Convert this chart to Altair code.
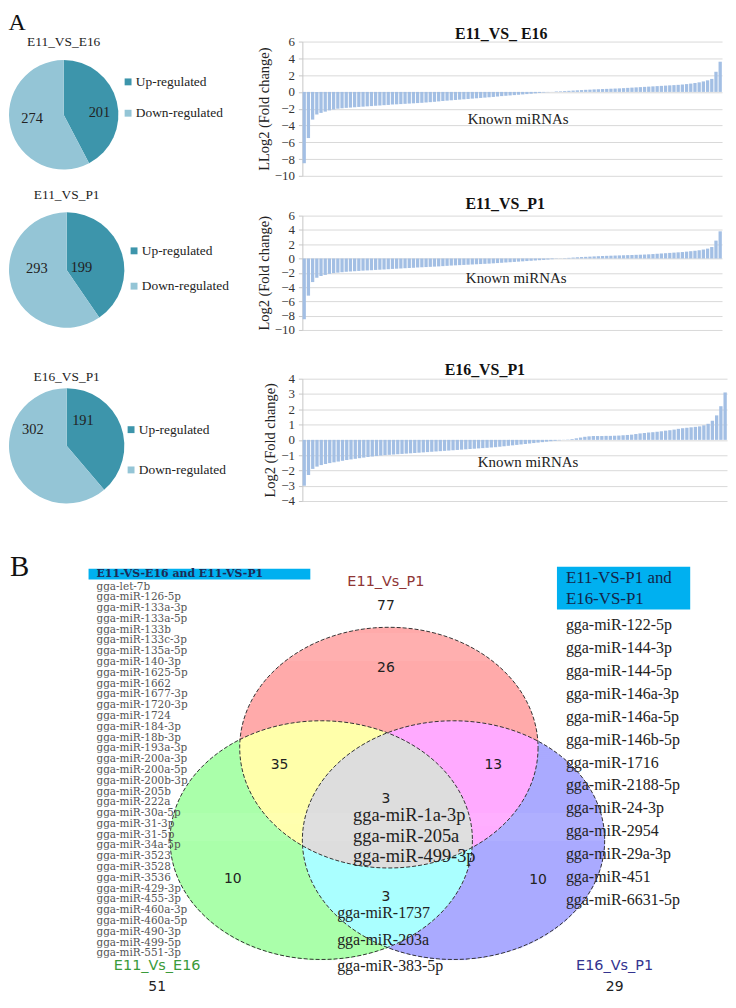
import math
import numpy as np
import pandas as pd
import altair as alt

# ------------------------------------------------------------------
# Panel A data
# ------------------------------------------------------------------
pie_titles = ["E11_VS_E16", "E11_VS_P1", "E16_VS_P1"]
categories = ["Up-regulated", "Down-regulated"]
up_counts = [201, 199, 191]
down_counts = [274, 293, 302]

bar_titles = ["E11_VS_ E16", "E11_VS_P1", "E16_VS_P1"]
bar_ytitles = ["LLog2 (Fold change)", "Log2 (Fold change)", "Log2 (Fold change)"]
known_label = ["Known miRNAs", "Known miRNAs", "Known  miRNAs"]
ticks_wide = [-10, -8, -6, -4, -2, 0, 2, 4, 6]
ticks_narrow = [-4, -3, -2, -1, 0, 1, 2, 3, 4]

# sorted log2 fold changes (one value per ~5 miRNAs)
fc_e11_e16 = [
    -8.5, -5.5, -3.3, -2.7, -2.5, -2.35, -2.2, -2.1, -2.0, -1.95,
    -1.9, -1.87, -1.83, -1.79, -1.76, -1.72, -1.69, -1.65, -1.62, -1.58,
    -1.55, -1.5, -1.48, -1.45, -1.42, -1.39, -1.36, -1.33, -1.3, -1.26,
    -1.22, -1.18, -1.13, -1.08, -1.04, -1.0, -0.96, -0.92, -0.88, -0.84,
    -0.8, -0.76, -0.72, -0.68, -0.64, -0.6, -0.55, -0.5, -0.46, -0.42,
    -0.38, -0.34, -0.3, -0.26, -0.22, -0.17, -0.12, -0.07, -0.03, 0.01,
    0.04, 0.07, 0.1, 0.13, 0.16, 0.19, 0.22, 0.25, 0.27, 0.3,
    0.32, 0.34, 0.36, 0.38, 0.4, 0.42, 0.45, 0.48, 0.51, 0.54,
    0.57, 0.6, 0.63, 0.66, 0.69, 0.72, 0.75, 0.78, 0.81, 0.84,
    0.88, 0.93, 0.99, 1.06, 1.14, 1.25, 1.38, 1.55, 2.4, 3.6,
]
fc_e11_p1 = [
    -8.5, -5.2, -3.3, -2.7, -2.45, -2.3, -2.15, -2.05, -1.98, -1.92,
    -1.86, -1.82, -1.78, -1.74, -1.7, -1.67, -1.64, -1.6, -1.57, -1.54,
    -1.5, -1.46, -1.43, -1.4, -1.36, -1.33, -1.3, -1.26, -1.23, -1.2,
    -1.17, -1.14, -1.11, -1.07, -1.03, -0.99, -0.96, -0.93, -0.9, -0.87,
    -0.84, -0.81, -0.78, -0.75, -0.72, -0.68, -0.64, -0.6, -0.56, -0.52,
    -0.48, -0.44, -0.4, -0.36, -0.32, -0.28, -0.24, -0.2, -0.15, -0.1,
    -0.05, 0.02, 0.05, 0.09, 0.13, 0.17, 0.2, 0.23, 0.26, 0.29,
    0.32, 0.35, 0.37, 0.39, 0.41, 0.43, 0.45, 0.47, 0.49, 0.51,
    0.53, 0.55, 0.58, 0.62, 0.66, 0.7, 0.74, 0.78, 0.82, 0.86,
    0.9, 0.96, 1.02, 1.08, 1.15, 1.25, 1.38, 1.6, 2.5, 3.8,
]
fc_e16_p1 = [
    -3.0, -2.3, -1.9, -1.75, -1.65, -1.58, -1.52, -1.47, -1.42, -1.37,
    -1.32, -1.28, -1.24, -1.2, -1.16, -1.12, -1.09, -1.06, -1.03, -1.0,
    -0.98, -0.96, -0.94, -0.92, -0.9, -0.88, -0.86, -0.84, -0.82, -0.8,
    -0.78, -0.76, -0.74, -0.72, -0.7, -0.68, -0.66, -0.64, -0.62, -0.6,
    -0.58, -0.56, -0.54, -0.52, -0.5, -0.48, -0.45, -0.42, -0.39, -0.36,
    -0.33, -0.3, -0.27, -0.24, -0.21, -0.18, -0.15, -0.12, -0.09, -0.06,
    -0.03, -0.01, 0.02, 0.05, 0.1, 0.15, 0.2, 0.23, 0.25, 0.25,
    0.25, 0.26, 0.26, 0.27, 0.28, 0.3, 0.32, 0.34, 0.38, 0.42,
    0.45, 0.48, 0.5, 0.53, 0.56, 0.6, 0.63, 0.67, 0.72, 0.76,
    0.79, 0.82, 0.85, 0.88, 0.95, 1.05, 1.25, 1.6, 2.2, 3.1,
]

# ------------------------------------------------------------------
# Panel B data
# ------------------------------------------------------------------
set_labels = ["E11_Vs_P1", "E11_Vs_E16", "E16_Vs_P1"]
set_totals = [77, 51, 29]
region_counts = [26, 35, 13, 3, 3, 10, 10]
box_left_title = "E11-VS-E16 and E11-VS-P1"
box_right_title = ["E11-VS-P1 and", "E16-VS-P1"]
genes_e11e16_e11p1 = [
    "gga-let-7b", "gga-miR-126-5p", "gga-miR-133a-3p", "gga-miR-133a-5p", "gga-miR-133b",
    "gga-miR-133c-3p", "gga-miR-135a-5p", "gga-miR-140-3p", "gga-miR-1625-5p", "gga-miR-1662",
    "gga-miR-1677-3p", "gga-miR-1720-3p", "gga-miR-1724", "gga-miR-184-3p", "gga-miR-18b-3p",
    "gga-miR-193a-3p", "gga-miR-200a-3p", "gga-miR-200a-5p", "gga-miR-200b-3p", "gga-miR-205b",
    "gga-miR-222a", "gga-miR-30a-5p", "gga-miR-31-3p", "gga-miR-31-5p", "gga-miR-34a-5p",
    "gga-miR-3523", "gga-miR-3528", "gga-miR-3536", "gga-miR-429-3p", "gga-miR-455-3p",
    "gga-miR-460a-3p", "gga-miR-460a-5p", "gga-miR-490-3p", "gga-miR-499-5p", "gga-miR-551-3p",
]
genes_e11p1_e16p1 = [
    "gga-miR-122-5p", "gga-miR-144-3p", "gga-miR-144-5p", "gga-miR-146a-3p", "gga-miR-146a-5p",
    "gga-miR-146b-5p", "gga-miR-1716", "gga-miR-2188-5p", "gga-miR-24-3p", "gga-miR-2954",
    "gga-miR-29a-3p", "gga-miR-451", "gga-miR-6631-5p",
]
genes_all_three = ["gga-miR-1a-3p", "gga-miR-205a", "gga-miR-499-3p"]
genes_e11e16_e16p1 = ["gga-miR-1737", "gga-miR-203a", "gga-miR-383-5p"]

# ------------------------------------------------------------------
# Styles / layout
# ------------------------------------------------------------------
SERIF = "Liberation Serif"
UP_COL = "#3d95ab"
DOWN_COL = "#94c5d6"
BAR_COL = "#a3bfe4"
GRID_COL = "#d9d9d9"

PIE_R = [55, 58, 58]
PIE_H = [128.6, 116, 116]
PIE_CY = [73.6, 58, 58]
PIE_TITLE_OFF = [-7, 10.5, 5]
LEG_X = [113, 119, 116]
LEG_Y = [33.8, 32, 35]
LEG_ROWPAD = [16.5, 20.5, 25.5]
LABEL_R = [[36, 32], [15, 30], [30, 37.6]]
LABEL_ANG = [[87, 263], [82, 272], [33, 295]]

BAR_W = [422, 422, 427]
BAR_H = [135, 115, 123]
BAR_TITLE_OFF = [-6, -2.7, -5.6]
BAR_TITLE_DX = [-11, -7, -30]
KNOWN_Y = [-3.2, -2.72, -1.43]
KNOWN_X = [217, 215, 227]


def pie_chart(i):
    df = pd.DataFrame({
        "cat": categories,
        "n": [up_counts[i], down_counts[i]],
        "ord": [0, 1],
        "lr": LABEL_R[i],
        "la": [math.radians(a) for a in LABEL_ANG[i]],
    })
    d = 2 * PIE_R[i]
    base = alt.Chart(df)
    arc = base.mark_arc(outerRadius=PIE_R[i]).encode(
        theta=alt.Theta("n:Q", stack=True),
        order=alt.Order("ord:Q"),
        y=alt.value(PIE_CY[i]),
        color=alt.Color(
            "cat:N",
            scale=alt.Scale(domain=categories, range=[UP_COL, DOWN_COL]),
            sort=categories,
            legend=alt.Legend(
                orient="none", legendX=LEG_X[i], legendY=LEG_Y[i], title=None,
                symbolType="square", symbolSize=48, symbolStrokeWidth=0,
                labelFont=SERIF, labelFontSize=13.5, labelColor="#222",
                labelOffset=1, rowPadding=LEG_ROWPAD[i], padding=0,
            ),
        ),
    )
    txt = base.mark_text(font=SERIF, fontSize=14.5, color="#222", baseline="middle").encode(
        theta=alt.Theta("la:Q", scale=None, stack=False),
        radius=alt.Radius("lr:Q", scale=None),
        y=alt.value(PIE_CY[i]),
        text="n:Q",
    )
    return alt.layer(arc, txt).resolve_scale(theta="independent", radius="independent").properties(
        width=d, height=PIE_H[i],
        title=alt.Title(pie_titles[i], font=SERIF, fontSize=13.5, fontWeight="normal",
                        color="#222", offset=PIE_TITLE_OFF[i], anchor="middle", frame="group"),
    )


def bar_chart(i, vals, ticks, dom):
    df = pd.DataFrame({"idx": list(range(len(vals))), "v": vals})
    bars = alt.Chart(df).mark_bar(color=BAR_COL).encode(
        x=alt.X("idx:O", axis=None, scale=alt.Scale(paddingInner=0.22, paddingOuter=0.05)),
        y=alt.Y("v:Q", scale=alt.Scale(domain=dom, nice=False, zero=False),
                axis=alt.Axis(values=ticks, tickCount=len(ticks), title=bar_ytitles[i], grid=True,
                              gridColor=GRID_COL, domainColor="#c8c8c8", tickColor="#c8c8c8",
                              tickSize=4, labelFont=SERIF, labelFontSize=13, labelColor="#333",
                              labelPadding=4, labelOverlap=False,
                              titleFont=SERIF, titleFontSize=14.5, titleFontWeight="normal",
                              titleColor="#222", titlePadding=3)),
    )
    kdf = pd.DataFrame({"t": [known_label[i]]})
    txt = alt.Chart(kdf).mark_text(font=SERIF, fontSize=15, color="#222", baseline="middle").encode(
        x=alt.value(KNOWN_X[i]), y=alt.datum(KNOWN_Y[i]), text="t:N",
    )
    return alt.layer(bars, txt).properties(
        width=BAR_W[i], height=BAR_H[i],
        title=alt.Title(bar_titles[i], font=SERIF, fontSize=16, fontWeight="bold", color="#111",
                        offset=BAR_TITLE_OFF[i], dx=BAR_TITLE_DX[i], anchor="middle", frame="group"),
    )


def indep(c):
    return c.resolve_scale(color="independent", theta="independent").resolve_legend(color="independent")


pie_col = indep(alt.vconcat(
    indep(alt.vconcat(pie_chart(0), pie_chart(1), spacing=16.7)),
    pie_chart(2), spacing=40.5,
))

bar_col = alt.vconcat(
    alt.vconcat(bar_chart(0, fc_e11_e16, ticks_wide, [-10, 6]),
                bar_chart(1, fc_e11_p1, ticks_wide, [-10, 6]), spacing=12),
    bar_chart(2, fc_e16_p1, ticks_narrow, [-4, 4]), spacing=24,
)

panel_a = indep(alt.hconcat(pie_col, bar_col, spacing=25))

# ------------------------------------------------------------------
# Panel B: Venn diagram on a pixel-like coordinate frame
# ------------------------------------------------------------------
VX = [8, 728]
VY = [550, 995]
xs = alt.Scale(domain=VX, nice=False, zero=False)
ys = alt.Scale(domain=VY, nice=False, zero=False, reverse=True)

# ellipses: (cx, cy, rx, ry) for E11_Vs_P1 (red), E11_Vs_E16 (green), E16_Vs_P1 (blue)
ELLIPSES = [(390, 750, 150, 121), (322, 843, 152, 120), (455, 843, 152, 120)]
REGION_COLORS = {1: "#ffaaaa", 2: "#aaffaa", 4: "#aaaaff", 3: "#ffffaa",
                 5: "#ffaaff", 6: "#aaffff", 7: "#dddddd"}

x0 = 160
px = np.arange(x0, 615) + 0.5
runs = []
for yy in range(620, 970):
    yc = yy + 0.5
    code = np.zeros(len(px), dtype=int)
    for bit, (cx, cy, rx, ry) in zip([1, 2, 4], ELLIPSES):
        inside = ((px - cx) / rx) ** 2 + ((yc - cy) / ry) ** 2 <= 1.0
        code |= bit * inside.astype(int)
    s = 0
    n = len(code)
    for k in range(1, n + 1):
        if k == n or code[k] != code[s]:
            if code[s]:
                runs.append({"x0": x0 + s, "x1": x0 + k, "y0": yy, "y1": yy + 1.6,
                             "c": REGION_COLORS[int(code[s])]})
            s = k
runs_df = pd.DataFrame(runs)

regions = alt.Chart(runs_df).mark_rect(strokeWidth=0).encode(
    x=alt.X("x0:Q", scale=xs, axis=None), x2="x1:Q",
    y=alt.Y("y0:Q", scale=ys, axis=None), y2="y1:Q",
    color=alt.Color("c:N", scale=None),
)


def ellipse_path(ratio):
    k = 0.5523
    e = ratio
    return (f"M1,0C1,{k*e:.4f} {k:.4f},{e:.4f} 0,{e:.4f}"
            f"C{-k:.4f},{e:.4f} -1,{k*e:.4f} -1,0"
            f"C-1,{-k*e:.4f} {-k:.4f},{-e:.4f} 0,{-e:.4f}"
            f"C{k:.4f},{-e:.4f} 1,{-k*e:.4f} 1,0Z")


outl_df = pd.DataFrame([
    {"x": cx, "y": cy, "path": ellipse_path(ry / rx), "sz": (2 * rx) ** 2}
    for (cx, cy, rx, ry) in ELLIPSES
])
outlines = alt.Chart(outl_df).mark_point(filled=False, stroke="#333", strokeWidth=1,
                                          strokeDash=[4, 2], opacity=1).encode(
    x=alt.X("x:Q", scale=xs, axis=None), y=alt.Y("y:Q", scale=ys, axis=None),
    shape=alt.Shape("path:N", scale=None), size=alt.Size("sz:Q", scale=None),
)

boxes_df = pd.DataFrame([
    {"x0": 88, "x1": 311, "y0": 570, "y1": 581},
    {"x0": 559, "x1": 693, "y0": 568, "y1": 611},
])
boxes = alt.Chart(boxes_df).mark_rect(color="#00b0f0").encode(
    x=alt.X("x0:Q", scale=xs, axis=None), x2="x1:Q",
    y=alt.Y("y0:Q", scale=ys, axis=None), y2="y1:Q",
)


def text_layer(df, **kw):
    return alt.Chart(df).mark_text(baseline="middle", **kw).encode(
        x=alt.X("x:Q", scale=xs, axis=None), y=alt.Y("y:Q", scale=ys, axis=None), text="t:N",
    )


left_list = pd.DataFrame({"t": genes_e11e16_e11p1, "x": 96,
                          "y": [588 + i * 10.85 for i in range(len(genes_e11e16_e11p1))]})
right_list = pd.DataFrame({"t": genes_e11p1_e16p1, "x": 568,
                           "y": [627 + i * 23.0 for i in range(len(genes_e11p1_e16p1))]})
center_list = pd.DataFrame({"t": genes_all_three, "x": 354, "y": [818, 838.5, 859]})
bottom_list = pd.DataFrame({"t": genes_e11e16_e16p1, "x": 338, "y": [916, 943, 970]})
left_head = pd.DataFrame({"t": [box_left_title], "x": [96], "y": [575.5]})
right_head = pd.DataFrame({"t": box_right_title, "x": [568, 568], "y": [579.5, 600.5]})

num_pos = [(387, 670), (280, 767), (495, 767), (387, 802), (387, 900), (233, 882), (540, 883)]
numbers = pd.DataFrame({"t": [str(v) for v in region_counts] + [str(v) for v in set_totals],
                        "x": [p[0] for p in num_pos] + [387, 157, 617],
                        "y": [p[1] for p in num_pos] + [608, 991, 991]})
set_df = pd.DataFrame({"t": set_labels, "x": [387, 157, 617], "y": [583, 970, 970],
                       "col": ["#8f3535", "#3a9a3a", "#33338f"]})
set_layer = alt.Chart(set_df).mark_text(baseline="middle", font="DejaVu Sans", fontSize=14.5).encode(
    x=alt.X("x:Q", scale=xs, axis=None), y=alt.Y("y:Q", scale=ys, axis=None), text="t:N",
    color=alt.Color("col:N", scale=None),
)
b_label = pd.DataFrame({"t": ["B"], "x": [9], "y": [568]})

venn = alt.layer(
    regions,
    outlines,
    boxes,
    text_layer(left_head, align="left", font="DejaVu Serif", fontSize=11, fontWeight="bold", color="#1c2a55"),
    text_layer(left_list, align="left", font="DejaVu Serif", fontSize=10.5, color="#555"),
    text_layer(right_head, align="left", font=SERIF, fontSize=17, color="#14264a"),
    text_layer(right_list, align="left", font=SERIF, fontSize=16, color="#222"),
    text_layer(center_list, align="left", font=SERIF, fontSize=18.5, color="#222"),
    text_layer(bottom_list, align="left", font=SERIF, fontSize=16, color="#222"),
    text_layer(numbers, align="center", font="DejaVu Sans", fontSize=14, color="#222"),
    set_layer,
    text_layer(b_label, align="left", font=SERIF, fontSize=29, color="#111"),
).properties(width=VX[1] - VX[0], height=VY[1] - VY[0])

chart = indep(alt.vconcat(panel_a, venn, spacing=39)).properties(
    padding=0, background="white",
    title=alt.Title("A", font=SERIF, fontSize=24, fontWeight="normal", color="#111",
                    anchor="start", offset=-10),
).configure_view(stroke="transparent")

chart.save("out.html", embed_options={"renderer": "svg", "actions": False})
